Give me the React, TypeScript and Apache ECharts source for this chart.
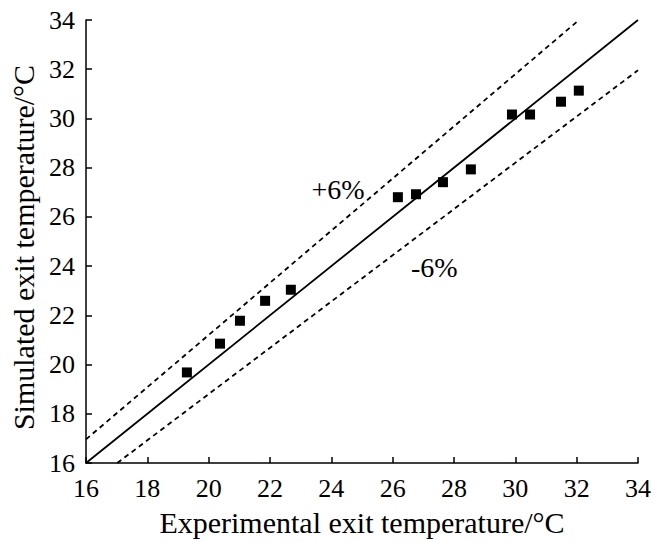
import React, { useEffect, useRef } from "react";
import * as echarts from "echarts";

const experimental = [19.29, 20.37, 21.02, 21.84, 22.68, 26.17, 26.76, 27.64, 28.55, 29.89, 30.48, 31.49, 32.07];
const simulated = [19.68, 20.85, 21.78, 22.59, 23.04, 26.8, 26.92, 27.41, 27.93, 30.16, 30.16, 30.68, 31.13];
const perfectLine = [[16, 16], [34, 34]];
const plusLine = [[16, 16.96], [32.075, 34]];
const minusLine = [[17.02, 16], [34, 31.96]];
const bandLabels = [
  { text: "+6%", x: 24.22, y: 27.12 },
  { text: "-6%", x: 27.36, y: 23.95 },
];
const ticks = [16, 18, 20, 22, 24, 26, 28, 30, 32, 34];

const FONT = "Liberation Serif";

export default function App() {
  const ref = useRef<HTMLDivElement>(null);
  useEffect(() => {
    const chart = echarts.init(ref.current!, null, { renderer: "svg" });
    const axisCommon = {
      type: "value",
      min: ticks[0],
      max: ticks[ticks.length - 1],
      interval: 2,
      axisLine: { show: true, lineStyle: { color: "#000", width: 1.5 } },
      axisTick: { show: true, inside: true, length: 6, lineStyle: { color: "#000", width: 1.5 } },
      splitLine: { show: false },
      axisLabel: { color: "#000", fontFamily: FONT, fontSize: 26 },
      nameLocation: "middle",
      nameTextStyle: { color: "#000", fontFamily: FONT, fontSize: 30 },
    };
    chart.setOption({
      animation: false,
      backgroundColor: "#fff",
      grid: { left: 86, right: 30, top: 20, bottom: 77 },
      xAxis: {
        ...axisCommon,
        name: "Experimental exit temperature/°C",
        nameGap: 44,
        axisLabel: { ...axisCommon.axisLabel, margin: 12 },
      },
      yAxis: {
        ...axisCommon,
        name: "Simulated exit temperature/°C",
        nameGap: 48,
        nameTextStyle: { ...axisCommon.nameTextStyle, padding: [0, 12, 0, 0] },
        axisLabel: { ...axisCommon.axisLabel, margin: 11 },
      },
      series: [
        {
          type: "line",
          data: perfectLine,
          symbol: "none",
          lineStyle: { color: "#000", width: 1.8 },
        },
        {
          type: "line",
          data: plusLine,
          symbol: "none",
          lineStyle: { color: "#000", width: 1.8, type: [5, 4] },
        },
        {
          type: "line",
          data: minusLine,
          symbol: "none",
          lineStyle: { color: "#000", width: 1.8, type: [5, 4] },
        },
        {
          type: "scatter",
          data: experimental.map((x, i) => [x, simulated[i]]),
          symbol: "rect",
          symbolSize: 10,
          itemStyle: { color: "#000", opacity: 1 },
          z: 5,
        },
        {
          type: "scatter",
          data: bandLabels.map((d) => ({ value: [d.x, d.y], name: d.text })),
          symbolSize: 0,
          itemStyle: { opacity: 1 },
          label: {
            show: true,
            position: "inside",
            formatter: (p: any) => p.name,
            color: "#000",
            fontFamily: FONT,
            fontSize: 28,
          },
        },
      ],
    });
    return () => chart.dispose();
  }, []);
  return (
    <div
      ref={ref}
      style={{ position: "absolute", left: 0, top: 0, width: 668, height: 542 }}
    />
  );
}
